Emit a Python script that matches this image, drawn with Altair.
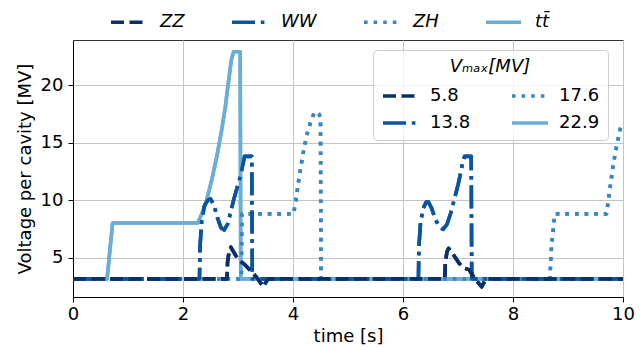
import altair as alt
import pandas as pd

# ---- data ----
processes = ["ZZ", "WW", "ZH", "tt\u0304"]
vmax_labels = ["5.8", "13.8", "17.6", "22.9"]
line_colors = ["#08306b", "#0b559f", "#3787c0", "#6aaed6"]

zz_t = [0, 2.80, 2.81, 2.84, 2.87, 2.92, 2.98, 3.04, 3.12, 3.20, 3.28, 3.35, 3.41, 3.46, 3.50, 3.55,
        6.76, 6.77, 6.80, 6.83, 6.88, 6.95, 7.02, 7.10, 7.20, 7.25, 7.31, 7.37, 7.43, 7.47, 7.51, 10]
zz_v = [3.15, 3.15, 4.6, 5.6, 5.9, 5.5, 5.0, 4.7, 4.4, 4.0, 3.6, 3.2, 2.8, 2.45, 2.8, 3.15,
        3.15, 4.6, 5.5, 5.8, 5.5, 5.0, 4.5, 4.1, 3.95, 3.6, 3.1, 2.8, 2.45, 2.8, 3.15, 3.15]

ww_t = [0, 2.30, 2.31, 2.34, 2.39, 2.45, 2.50, 2.56, 2.63, 2.69, 2.75, 2.81, 2.87, 2.92, 2.98, 3.04,
        3.08, 3.12, 3.25, 3.26,
        6.28, 6.29, 6.32, 6.37, 6.42, 6.46, 6.52, 6.59, 6.66, 6.73, 6.80, 6.87, 6.94, 7.00, 7.05,
        7.09, 7.12, 7.24, 7.25, 10]
ww_v = [3.15, 3.15, 6.0, 8.2, 9.5, 10.0, 10.1, 9.6, 8.4, 7.6, 7.4, 7.9, 9.0, 10.0, 11.0, 12.0,
        12.9, 13.8, 13.8, 3.15,
        3.15, 6.0, 8.1, 9.3, 9.8, 9.85, 9.3, 8.3, 7.7, 7.45, 7.9, 8.9, 10.2, 11.3, 12.4,
        13.4, 13.8, 13.8, 3.15, 3.15]

zh_t = [0, 3.06, 3.07, 4.01, 4.05, 4.10, 4.15, 4.20, 4.26, 4.32, 4.37, 4.42, 4.47, 4.50, 4.51,
        8.67, 8.70, 8.76, 9.70, 9.76, 9.82, 9.88, 9.95, 10.0]
zh_v = [3.15, 3.15, 8.8, 8.8, 9.9, 11.6, 13.1, 14.5, 15.8, 16.8, 17.4, 17.7, 17.5, 17.2, 3.15,
        3.15, 6.0, 8.8, 8.8, 10.9, 13.0, 14.6, 16.2, 16.6]

tt_t = [0, 0.62, 0.72, 2.27, 2.35, 2.43, 2.52, 2.62, 2.70, 2.77, 2.83, 2.88, 2.92, 3.04, 3.05, 10]
tt_v = [3.15, 3.15, 8.0, 8.0, 8.9, 10.0, 11.7, 13.9, 16.0, 18.1, 20.4, 22.2, 22.9, 22.9, 3.15, 3.15]

# drawing order: tt first, ZZ last (on top)
series = [
    (processes[3], vmax_labels[3], tt_t, tt_v),
    (processes[2], vmax_labels[2], zh_t, zh_v),
    (processes[1], vmax_labels[1], ww_t, ww_v),
    (processes[0], vmax_labels[0], zz_t, zz_v),
]
rows = []
for name, vm, ts, vs in series:
    for i, (t, v) in enumerate(zip(ts, vs)):
        rows.append({"process": name, "vmax": vm, "t": t, "v": v, "i": i})
df = pd.DataFrame(rows)

lw = 3.6
dashes = [[13, 5.5], [23, 5.8, 3.6, 5.8], [3.6, 6], [1, 0]]

FONT = "DejaVu Sans"

x_enc = alt.X("t:Q", scale=alt.Scale(domain=[0, 10], nice=False),
              axis=alt.Axis(values=[0, 2, 4, 6, 8, 10], title="time [s]", format="d",
                            labelFlush=False, labelPadding=3, titlePadding=4))
y_enc = alt.Y("v:Q", scale=alt.Scale(domain=[1.57, 23.92], nice=False, zero=False),
              axis=alt.Axis(values=[5, 10, 15, 20], title="Voltage per cavity [MV]",
                            labelFlush=False, labelPadding=5, titlePadding=6))

legA = alt.Legend(orient="none", legendX=36, legendY=-37.5, direction="horizontal", title=None,
                  columns=4, gridAlign="each",
                  labelFontSize=18, labelFontStyle="italic", labelFont=FONT, labelColor="black",
                  symbolType="stroke", symbolSize=1225, symbolStrokeWidth=lw,
                  labelOffset=12, columnPadding=39, padding=0)

legB = alt.Legend(orient="none", legendX=300, legendY=10, columns=2,
                  title="V\u2098\u2090\u2093[MV]", titleFontSize=18, titleFontStyle="italic",
                  titleFontWeight="normal", titleFont=FONT, titleColor="black",
                  titleAnchor="middle", titlePadding=9,
                  labelFontSize=18, labelFont=FONT, labelColor="black",
                  symbolType="M-1,0H3", symbolSize=324, symbolStrokeWidth=lw,
                  labelOffset=27, columnPadding=33, rowPadding=7, padding=8,
                  fillColor="rgba(255,255,255,0.8)", strokeColor="#cccccc", cornerRadius=4)

layerA = alt.Chart(df).mark_line(strokeWidth=lw, strokeCap="butt", strokeJoin="round", clip=True).encode(
    x=x_enc, y=y_enc, order="i:Q",
    color=alt.Color("process:N", scale=alt.Scale(domain=processes, range=line_colors), legend=legA),
    strokeDash=alt.StrokeDash("process:N", scale=alt.Scale(domain=processes, range=dashes), legend=legA),
)
layerB = alt.Chart(df).mark_line(strokeWidth=lw, strokeCap="butt", strokeJoin="round", clip=True).encode(
    x=x_enc, y=y_enc, order="i:Q",
    color=alt.Color("vmax:N", scale=alt.Scale(domain=vmax_labels, range=line_colors), legend=legB),
    strokeDash=alt.StrokeDash("vmax:N", scale=alt.Scale(domain=vmax_labels, range=dashes), legend=legB),
)

chart = alt.layer(layerA, layerB).resolve_scale(
    color="independent", strokeDash="independent"
).properties(
    width=550, height=257,
    padding={"left": 73, "top": 40, "right": 21, "bottom": 50},
    autosize=alt.AutoSizeParams(type="none"),
).configure_axis(
    labelFontSize=18, titleFontSize=18, labelFont=FONT, titleFont=FONT,
    titleFontWeight="normal", labelColor="black", titleColor="black",
    gridColor="#c4c4c4", gridWidth=1, tickSize=5, tickColor="black", domainColor="black",
    tickWidth=1, domainWidth=1,
).configure_view(stroke="#333333", strokeWidth=1)

chart.save("out.html", embed_options={"renderer": "svg", "actions": False})
